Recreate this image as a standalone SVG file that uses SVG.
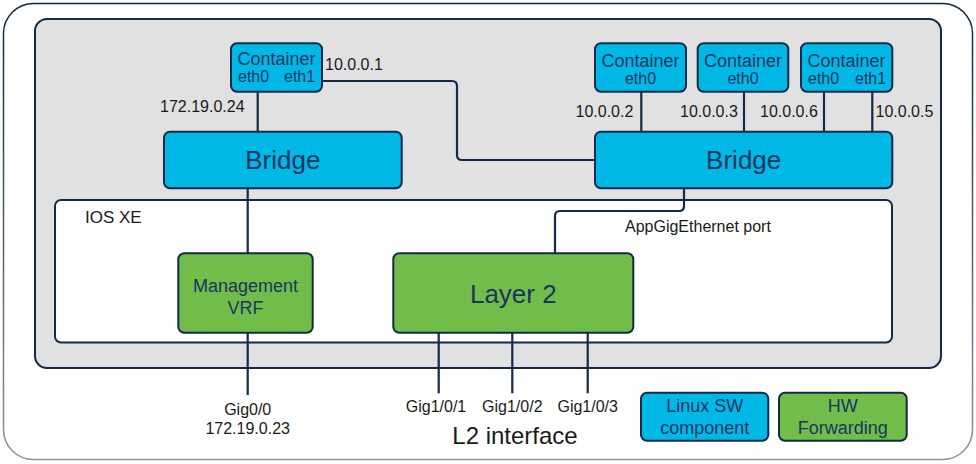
<svg xmlns="http://www.w3.org/2000/svg" width="976" height="464" viewBox="0 0 976 464">
<defs>
<linearGradient id="frameGrad" x1="0" y1="0" x2="0" y2="1">
<stop offset="0" stop-color="#0f2445"/>
<stop offset="1" stop-color="#8795a6"/>
</linearGradient>
</defs>
<style>
text{font-family:"Liberation Sans",Arial,sans-serif;}
.sw{fill:#00b8e6;stroke:#15294a;stroke-width:2;}
.hw{fill:#72bd4a;stroke:#15294a;stroke-width:2;}
.in{fill:#1a3560;text-anchor:middle;}
.lbl{fill:#1a1a1a;font-size:16px;}
.c{text-anchor:middle;}
.wire{fill:none;stroke:#15294a;stroke-width:2.2;}
</style>
<rect x="3.5" y="3.5" width="969" height="456" rx="30" fill="#ffffff" stroke="url(#frameGrad)" stroke-width="1.5"/>
<g id="host">
<rect x="35" y="19" width="906" height="349" rx="12" fill="#e1e1e1" stroke="#15294a" stroke-width="2"/>
</g>
<g id="iosxe">
<rect x="55" y="200" width="837" height="142.5" rx="6" fill="#ffffff" stroke="#15294a" stroke-width="2"/>
<text x="85" y="223" font-size="17" fill="#1a1a1a">IOS XE</text>
</g>
<g id="connectors">
<path class="wire" d="M322 81 H452 Q457 81 457 86 V155 Q457 160 462 160 H595"/>
<line class="wire" x1="257.7" y1="91.7" x2="257.7" y2="131.7"/>
<line class="wire" x1="247.7" y1="188.3" x2="247.7" y2="253.3"/>
<line class="wire" x1="641.3" y1="91.7" x2="641.3" y2="131.7"/>
<line class="wire" x1="744" y1="91.7" x2="744" y2="131.7"/>
<line class="wire" x1="824" y1="91.7" x2="824" y2="131.7"/>
<line class="wire" x1="872.3" y1="91.7" x2="872.3" y2="131.7" stroke-width="1.6"/>
<path class="wire" d="M684 188.3 V206 Q684 211 679 211 H560 Q555 211 555 216 V253.3"/>
<line class="wire" x1="247.7" y1="332.7" x2="247.7" y2="395"/>
<line class="wire" x1="438.7" y1="332.7" x2="438.7" y2="393.3"/>
<line class="wire" x1="512.3" y1="332.7" x2="512.3" y2="393.3"/>
<line class="wire" x1="587.7" y1="332.7" x2="587.7" y2="393.3"/>
</g>
<g id="container1">
<rect class="sw" x="231" y="43.3" width="91" height="48.4" rx="6"/>
<text class="in" x="276.5" y="65" font-size="18">Container</text>
<text x="238" y="82" font-size="16" fill="#1a3560">eth0</text>
<text x="284" y="82" font-size="16" fill="#1a3560">eth1</text>
</g>
<g id="container2">
<rect class="sw" x="595" y="43.3" width="91" height="48.4" rx="6"/>
<text class="in" x="640.5" y="67" font-size="18">Container</text>
<text class="in" x="640.5" y="84" font-size="16">eth0</text>
</g>
<g id="container3">
<rect class="sw" x="697.7" y="43.3" width="90.6" height="48.4" rx="6"/>
<text class="in" x="743" y="67" font-size="18">Container</text>
<text class="in" x="743" y="84" font-size="16">eth0</text>
</g>
<g id="container4">
<rect class="sw" x="801" y="43.3" width="91.3" height="48.4" rx="6"/>
<text class="in" x="846.6" y="67" font-size="18">Container</text>
<text x="808" y="84" font-size="16" fill="#1a3560">eth0</text>
<text x="855" y="84" font-size="16" fill="#1a3560">eth1</text>
</g>
<g id="bridge1">
<rect class="sw" x="164" y="131.7" width="237.7" height="56.6" rx="6"/>
<text class="in" x="282.8" y="169" font-size="26">Bridge</text>
</g>
<g id="bridge2">
<rect class="sw" x="595" y="131.7" width="297.3" height="56.6" rx="6"/>
<text class="in" x="743.7" y="169" font-size="26">Bridge</text>
</g>
<g id="mgmtvrf">
<rect class="hw" x="178.3" y="253.3" width="134.4" height="79.4" rx="6"/>
<text class="in" x="245.5" y="292" font-size="18">Management</text>
<text class="in" x="245.5" y="314" font-size="18">VRF</text>
</g>
<g id="layer2">
<rect class="hw" x="393.3" y="253.3" width="240" height="79.4" rx="6"/>
<text class="in" x="513.3" y="303" font-size="26">Layer 2</text>
</g>
<g id="labels">
<text class="lbl" x="325" y="70">10.0.0.1</text>
<text class="lbl" x="160" y="112">172.19.0.24</text>
<text class="lbl" x="575.5" y="117">10.0.0.2</text>
<text class="lbl" x="680" y="117">10.0.0.3</text>
<text class="lbl" x="760" y="117">10.0.0.6</text>
<text class="lbl" x="875.5" y="117">10.0.0.5</text>
<text class="lbl" x="625" y="232">AppGigEthernet port</text>
<text class="lbl c" x="247.7" y="415">Gig0/0</text>
<text class="lbl c" x="247.7" y="433.5">172.19.0.23</text>
<text class="lbl c" x="436" y="412">Gig1/0/1</text>
<text class="lbl c" x="512.3" y="412">Gig1/0/2</text>
<text class="lbl c" x="587.7" y="412">Gig1/0/3</text>
<text class="c" x="515" y="444" font-size="24" fill="#1a1a1a">L2 interface</text>
</g>
<g id="legend-sw">
<rect class="sw" x="641" y="392.7" width="127.3" height="48" rx="6"/>
<text class="in" x="704.7" y="412" font-size="18">Linux SW</text>
<text class="in" x="704.7" y="434" font-size="18">component</text>
</g>
<g id="legend-hw">
<rect class="hw" x="779" y="392.7" width="127.7" height="48" rx="6"/>
<text class="in" x="842.8" y="412" font-size="18">HW</text>
<text class="in" x="842.8" y="434" font-size="18">Forwarding</text>
</g>
</svg>
